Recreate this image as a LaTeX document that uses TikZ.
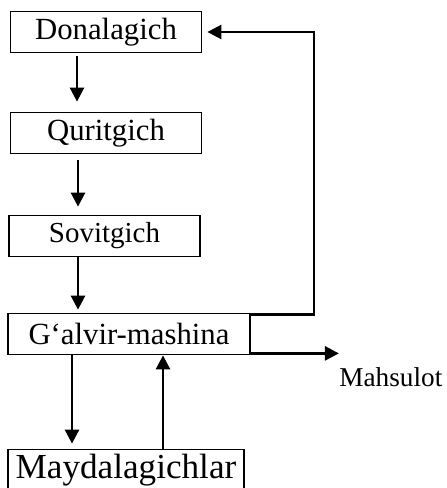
\documentclass[tikz,border=0pt]{standalone}
\usepackage{fontspec}
\setmainfont{Liberation Serif}
\usetikzlibrary{arrows.meta,
                positioning}

\begin{document}
\begin{tikzpicture}[
        node distance=2cm,
        stage/.style={rectangle, minimum width=3.82cm, minimum height=0.82cm, text centered, draw=black, line width=1pt, inner sep=0pt, font=\fontsize{17.5}{20}\selectfont},
        flow/.style={arrows={-Triangle[length=8pt, width=8pt]}, line width=1.5pt}
        ]
        \useasboundingbox (0,0) rectangle (8.92,-9.76);

        \node (node1)  [stage] at (2.12,-0.64)                                   {Donalagich};
        \node (node2)  [stage, below of=node1, node distance=2.02cm]              {Quritgich};
        \node (node3)  [stage, below of=node2, node distance=2.06cm, xshift=-0.03cm, font=\fontsize{16.5}{19}\selectfont] {Sovitgich};
        \node (node4)  [stage, below of=node3, node distance=1.96cm, xshift=0.49cm, minimum width=4.84cm] {G‘alvir-mashina};
        \node (node5)  [stage, below of=node4, node distance=2.72cm, xshift=-0.06cm, minimum width=4.72cm, font=\fontsize{20}{23}\selectfont] {Maydalagichlar};

        \coordinate (out) at ([xshift=1.76cm, yshift=0.04cm]node4.south east);
        \node (product) at ([xshift=1.04cm, yshift=-0.48cm]out) {\fontsize{15.5}{18}\selectfont Mahsulot};

        \draw [flow, shorten <=0.06cm, shorten >=0.2cm] ([xshift=-0.58cm]node1.south) -- ([xshift=-0.58cm]node2.north);
        \draw [flow, shorten <=0.12cm, shorten >=0.16cm] ([xshift=-0.56cm]node2.south) -- ([xshift=-0.56cm]node2.south |- node3.north);
        \draw [flow, shorten >=0.06cm] ([xshift=-0.53cm]node3.south) -- ([xshift=-0.53cm]node3.south |- node4.north);
        \draw [flow, shorten >=0.1cm] ([xshift=-1.14cm]node4.south) -- ([xshift=-1.14cm]node4.south |- node5.north);
        \draw [flow] ([xshift=0.68cm]node4.south |- node5.north) -- ([xshift=0.68cm]node4.south);

        \draw [flow, shorten >=0.1cm] ([yshift=-0.04cm]node4.north east) -- ++(1.26cm,0) |- (node1.east);
        \draw [flow] ([yshift=0.04cm]node4.south east) -- (out);

    \end{tikzpicture}
\end{document}
